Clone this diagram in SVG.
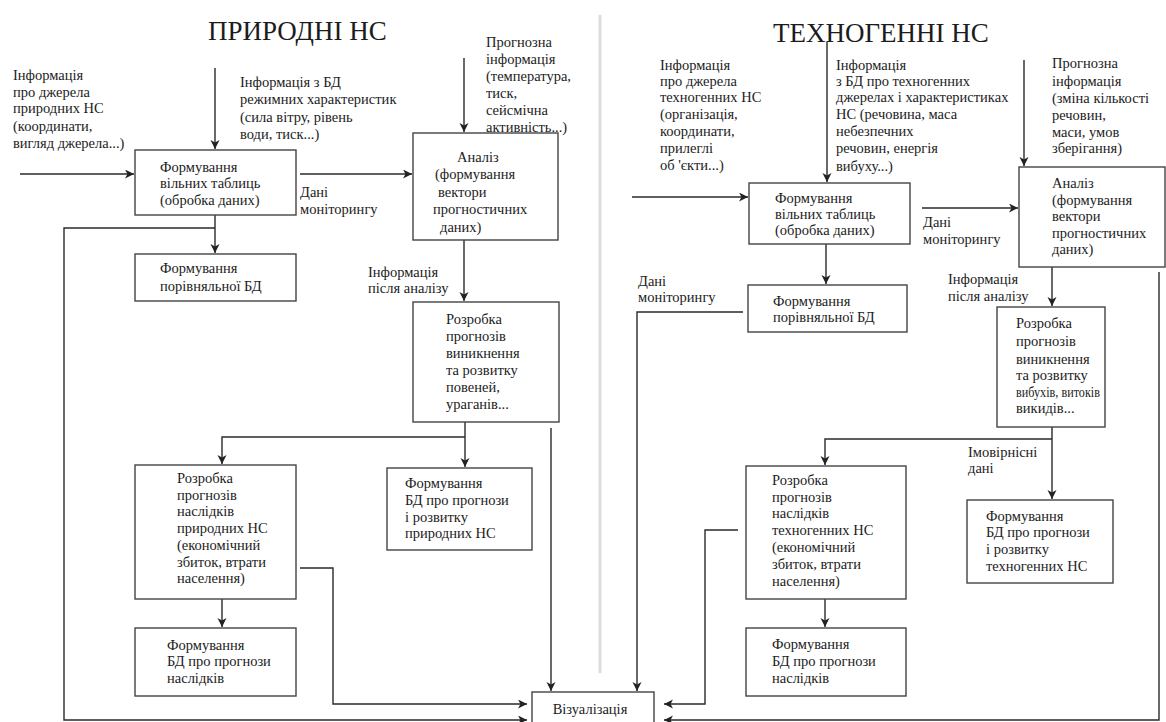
<svg xmlns="http://www.w3.org/2000/svg" width="1166" height="722" viewBox="0 0 1166 722">
<defs>
<marker id="ah" markerUnits="userSpaceOnUse" markerWidth="10" markerHeight="10" refX="9" refY="4.5" orient="auto">
<path d="M0,0 L9,4.5 L0,9 L2.5,4.5 Z" fill="#222"/>
</marker>
<style>
text{font-family:"Liberation Serif","Tinos","Times New Roman","Times","Noto Serif","DejaVu Serif","FreeSerif",serif;fill:#1c1c1c}
.t{font-size:14.5px}
.ttl{font-size:27px}
.box{fill:#fff;stroke:#444;stroke-width:1.4}
.ln{fill:none;stroke:#2a2a2a;stroke-width:1.4}
.ar{marker-end:url(#ah)}
.div{stroke:#dcdcdc;stroke-width:3}
</style>
</defs>
<rect width="1166" height="722" fill="#fff"/>
<line class="div" x1="600" y1="15" x2="600" y2="673"/>

<g id="titles">
<text class="ttl" x="208" y="40">ПРИРОДНІ НС</text>
<text class="ttl" x="773" y="42">ТЕХНОГЕННІ НС</text>
</g>

<g id="labels">
<text class="t" x="13" y="80">Інформація</text>
<text class="t" x="13" y="97">про джерела</text>
<text class="t" x="13" y="113">природних НС</text>
<text class="t" x="13" y="131">(координати,</text>
<text class="t" x="13" y="148">вигляд джерела...)</text>

<text class="t" x="240" y="87">Інформація з БД</text>
<text class="t" x="240" y="104">режимних характеристик</text>
<text class="t" x="240" y="122">(сила вітру, рівень</text>
<text class="t" x="240" y="139">води, тиск...)</text>

<text class="t" x="300" y="197">Дані</text>
<text class="t" x="300" y="214">моніторингу</text>

<text class="t" x="486" y="47">Прогнозна</text>
<text class="t" x="486" y="64">інформація</text>
<text class="t" x="486" y="81">(температура,</text>
<text class="t" x="486" y="98">тиск,</text>
<text class="t" x="486" y="115">сейсмічна</text>
<text class="t" x="486" y="132">активність...)</text>

<text class="t" x="368" y="277">Інформація</text>
<text class="t" x="368" y="293">після аналізу</text>

<text class="t" x="660" y="70">Інформація</text>
<text class="t" x="660" y="86">про джерела</text>
<text class="t" x="660" y="102">техногенних НС</text>
<text class="t" x="660" y="119">(організація,</text>
<text class="t" x="660" y="136">координати,</text>
<text class="t" x="660" y="153">прилеглі</text>
<text class="t" x="660" y="170">об 'єкти...)</text>

<text class="t" x="836" y="70">Інформація</text>
<text class="t" x="836" y="86">з БД про техногенних</text>
<text class="t" x="836" y="102">джерелах і характеристиках</text>
<text class="t" x="836" y="119">НС (речовина, маса</text>
<text class="t" x="836" y="136">небезпечних</text>
<text class="t" x="836" y="153">речовин, енергія</text>
<text class="t" x="836" y="171">вибуху...)</text>

<text class="t" x="923" y="227">Дані</text>
<text class="t" x="923" y="244">моніторингу</text>

<text class="t" x="1052" y="68">Прогнозна</text>
<text class="t" x="1052" y="86">інформація</text>
<text class="t" x="1052" y="103">(зміна кількості</text>
<text class="t" x="1052" y="120">речовин,</text>
<text class="t" x="1052" y="137">маси, умов</text>
<text class="t" x="1052" y="153">зберігання)</text>

<text class="t" x="948" y="284">Інформація</text>
<text class="t" x="948" y="301">після аналізу</text>

<text class="t" x="638" y="286">Дані</text>
<text class="t" x="638" y="302">моніторингу</text>

<text class="t" x="968" y="457">Імовірнісні</text>
<text class="t" x="968" y="473">дані</text>
</g>

<g id="connectors">
<path class="ln ar" d="M20,174 H134"/>
<path class="ln ar" d="M215,68 V149"/>
<path class="ln ar" d="M300,174 H412"/>
<path class="ln ar" d="M464,58 V132"/>
<path class="ln ar" d="M215,215 V253"/>
<path class="ln ar" d="M215,228 H64 V720 H527"/>
<path class="ln ar" d="M464,240 V301"/>
<path class="ln ar" d="M465,422 V467"/>
<path class="ln ar" d="M465,437 H222 V464"/>
<path class="ln ar" d="M551,428 V691"/>
<path class="ln ar" d="M222,599 V627"/>
<path class="ln ar" d="M300,568 H333 V704 H527"/>

<path class="ln ar" d="M632,197 H748"/>
<path class="ln ar" d="M827,42 V182"/>
<path class="ln ar" d="M922,208 H1018"/>
<path class="ln ar" d="M1024,60 V166"/>
<path class="ln ar" d="M826,244 V284"/>
<path class="ln ar" d="M743,312 H637 V691"/>
<path class="ln ar" d="M1052,267 V306"/>
<path class="ln ar" d="M1159,272 V720 H664"/>
<path class="ln ar" d="M1052,427 V499"/>
<path class="ln ar" d="M1052,439 H825 V465"/>
<path class="ln ar" d="M825,599 V627"/>
<path class="ln ar" d="M738,530 H705 V704 H664"/>
</g>

<g id="n-vilni-l">
<rect class="box" x="135" y="150" width="161" height="65"/>
<text class="t" x="160" y="172">Формування</text>
<text class="t" x="160" y="188">вільних таблиць</text>
<text class="t" x="160" y="205">(обробка даних)</text>
</g>

<g id="n-analiz-l">
<rect class="box" x="413" y="133" width="145" height="107"/>
<text class="t" x="457" y="162">Аналіз</text>
<text class="t" x="435" y="179">(формування</text>
<text class="t" x="438" y="197">вектори</text>
<text class="t" x="433" y="214">прогностичних</text>
<text class="t" x="440" y="232">даних)</text>
</g>

<g id="n-porivn-l">
<rect class="box" x="135" y="254" width="161" height="47"/>
<text class="t" x="160" y="273">Формування</text>
<text class="t" x="160" y="291">порівняльної БД</text>
</g>

<g id="n-rozrobka-l">
<rect class="box" x="413" y="302" width="146" height="120"/>
<text class="t" x="446" y="324">Розробка</text>
<text class="t" x="446" y="341">прогнозів</text>
<text class="t" x="446" y="358">виникнення</text>
<text class="t" x="446" y="375">та розвитку</text>
<text class="t" x="446" y="392">повеней,</text>
<text class="t" x="446" y="409">ураганів...</text>
</g>

<g id="n-bd-rozv-l">
<rect class="box" x="387" y="468" width="145" height="82"/>
<text class="t" x="405" y="488">Формування</text>
<text class="t" x="405" y="505">БД про прогнози</text>
<text class="t" x="405" y="522">і розвитку</text>
<text class="t" x="405" y="538">природних НС</text>
</g>

<g id="n-nasl-l">
<rect class="box" x="135" y="465" width="161" height="134"/>
<text class="t" x="177" y="483">Розробка</text>
<text class="t" x="177" y="500">прогнозів</text>
<text class="t" x="177" y="516">наслідків</text>
<text class="t" x="177" y="533">природних НС</text>
<text class="t" x="177" y="550">(економічний</text>
<text class="t" x="177" y="567">збиток, втрати</text>
<text class="t" x="177" y="583">населення)</text>
</g>

<g id="n-bd-nasl-l">
<rect class="box" x="135" y="628" width="161" height="68"/>
<text class="t" x="167" y="650">Формування</text>
<text class="t" x="167" y="666">БД про прогнози</text>
<text class="t" x="167" y="683">наслідків</text>
</g>

<g id="n-viz">
<rect class="box" x="532" y="692" width="122" height="40"/>
<text class="t" x="590" y="714" text-anchor="middle">Візуалізація</text>
</g>

<g id="n-vilni-r">
<rect class="box" x="749" y="183" width="161" height="61"/>
<text class="t" x="775" y="203">Формування</text>
<text class="t" x="775" y="219">вільних таблиць</text>
<text class="t" x="775" y="235">(обробка даних)</text>
</g>

<g id="n-analiz-r">
<rect class="box" x="1019" y="167" width="146" height="100"/>
<text class="t" x="1052" y="188">Аналіз</text>
<text class="t" x="1052" y="205">(формування</text>
<text class="t" x="1052" y="221">вектори</text>
<text class="t" x="1052" y="238">прогностичних</text>
<text class="t" x="1052" y="254">даних)</text>
</g>

<g id="n-porivn-r">
<rect class="box" x="748" y="285" width="159" height="47"/>
<text class="t" x="773" y="306">Формування</text>
<text class="t" x="773" y="322">порівняльної БД</text>
</g>

<g id="n-rozrobka-r">
<rect class="box" x="997" y="307" width="108" height="120"/>
<text class="t" x="1016" y="328">Розробка</text>
<text class="t" x="1016" y="346">прогнозів</text>
<text class="t" x="1016" y="364">виникнення</text>
<text class="t" x="1016" y="380">та розвитку</text>
<text class="t" x="1016" y="397" textLength="84" lengthAdjust="spacingAndGlyphs">вибухів, витоків</text>
<text class="t" x="1016" y="413">викидів...</text>
</g>

<g id="n-nasl-r">
<rect class="box" x="746" y="466" width="160" height="133"/>
<text class="t" x="772" y="485">Розробка</text>
<text class="t" x="772" y="502">прогнозів</text>
<text class="t" x="772" y="518">наслідків</text>
<text class="t" x="772" y="535">техногенних НС</text>
<text class="t" x="772" y="552">(економічний</text>
<text class="t" x="772" y="569">збиток, втрати</text>
<text class="t" x="772" y="586">населення)</text>
</g>

<g id="n-bd-rozv-r">
<rect class="box" x="967" y="500" width="146" height="83"/>
<text class="t" x="986" y="521">Формування</text>
<text class="t" x="986" y="537">БД про прогнози</text>
<text class="t" x="986" y="554">і розвитку</text>
<text class="t" x="986" y="571">техногенних НС</text>
</g>

<g id="n-bd-nasl-r">
<rect class="box" x="746" y="628" width="160" height="68"/>
<text class="t" x="772" y="649">Формування</text>
<text class="t" x="772" y="666">БД про прогнози</text>
<text class="t" x="772" y="683">наслідків</text>
</g>
</svg>
